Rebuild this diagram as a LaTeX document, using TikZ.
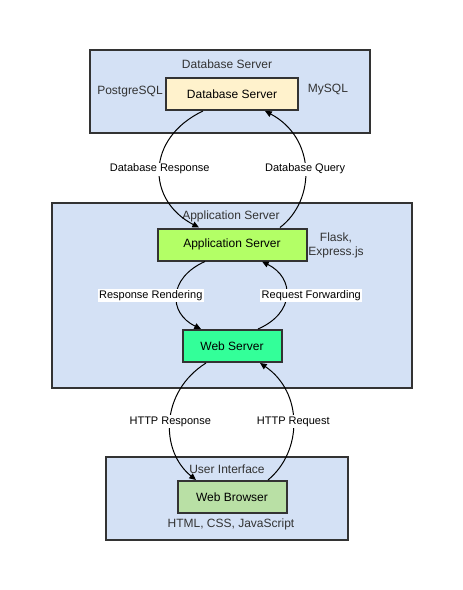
\documentclass[tikz,border=0pt]{standalone}
\usepackage{fontspec}
\setmainfont{Liberation Sans}
\usepackage{xcolor}
\usepackage{tikz}
\usetikzlibrary{arrows.meta}
\usetikzlibrary{positioning}

\definecolor{clusterfill}{HTML}{D4E1F5}
\definecolor{dbfill}{HTML}{FFF2CC}
\definecolor{appfill}{HTML}{B3FF66}
\definecolor{webfill}{HTML}{33FF99}
\definecolor{browserfill}{HTML}{B9E0A5}
\definecolor{edgegray}{HTML}{333333}

\begin{document}
\begin{tikzpicture}[
    x=0.75pt, y=-0.75pt,
    cluster/.style={rectangle, draw=edgegray, line width=1.5pt, fill=clusterfill,
                    inner sep=0pt},
    server/.style={rectangle, draw=edgegray, line width=1.5pt, inner sep=0pt,
                   minimum height=24pt, font=\fontsize{9}{10}\selectfont},
    note/.style={inner sep=1pt, font=\fontsize{9}{10.5}\selectfont, text=edgegray,
                 align=center},
    flow/.style={-{Triangle[length=5pt, width=4.5pt]}, line width=0.75pt},
    flowlabel/.style={fill=white, inner sep=1pt, font=\fontsize{8.25}{9}\selectfont},
  ]
  \useasboundingbox (0,0) rectangle (463,590);

  % groups
  \node (dbcluster)  [cluster, minimum width=210pt, minimum height=62.25pt]   at (230, 91.5) {};
  \node (appcluster) [cluster, minimum width=270pt, minimum height=138.75pt] at (232, 295.5) {};
  \node (uicluster)  [cluster, minimum width=181.5pt, minimum height=62.25pt] at (227, 498.5) {};

  \node (dbtitle)  [note] at (227, 64)  {Database Server};
  \node (apptitle) [note] at (231, 216) {Application Server};
  \node (uititle)  [note] at (227, 469) {User Interface};

  % servers
  \node (db)      [server, fill=dbfill, minimum width=99pt]       at (232, 94)  {Database Server};
  \node (app)     [server, fill=appfill, minimum width=111.75pt]  at (232, 244.5) {Application Server};
  \node (web)     [server, fill=webfill, minimum width=74.25pt]   at (232, 346) {Web Server};
  \node (browser) [server, fill=browserfill, minimum width=81.75pt] at (232, 497) {Web Browser};

  % technologies
  \node (postgres) [note] at (130, 92)  {PostgreSQL};
  \node (mysql)    [note] at (328, 90)  {MySQL};
  \node (flask)    [note] at (336, 245) {Flask,\\Express.js};
  \node (htmlcss)  [note] at (231, 524) {HTML, CSS, JavaScript};

  % requests and responses
  \draw[flow] ([xshift=-21.75pt]db.south) .. controls (146,138) and (146,200) ..
    node[flowlabel] {Database Response} ([xshift=-24.75pt]app.north);
  \draw[flow] ([xshift=36pt]app.north) .. controls (316,200) and (316,138) ..
    node[flowlabel] {Database Query} ([xshift=24.75pt]db.south);
  \draw[flow] ([xshift=-20.25pt]app.south) .. controls (168,278) and (168,313) ..
    node[flowlabel, xshift=-19.5pt] {Response Rendering} ([xshift=-23.25pt]web.north);
  \draw[flow] ([xshift=19.5pt]web.north) .. controls (295,313) and (295,278) ..
    node[flowlabel, xshift=18.75pt] {Request Forwarding} ([xshift=22.5pt]app.south);
  \draw[flow] ([xshift=-19.5pt]web.south) .. controls (160,392) and (160,451) ..
    node[flowlabel] {HTTP Response} ([xshift=-27pt]browser.north);
  \draw[flow] ([xshift=27pt]browser.north) .. controls (303,451) and (303,392) ..
    node[flowlabel] {HTTP Request} ([xshift=21pt]web.south);
\end{tikzpicture}
\end{document}
